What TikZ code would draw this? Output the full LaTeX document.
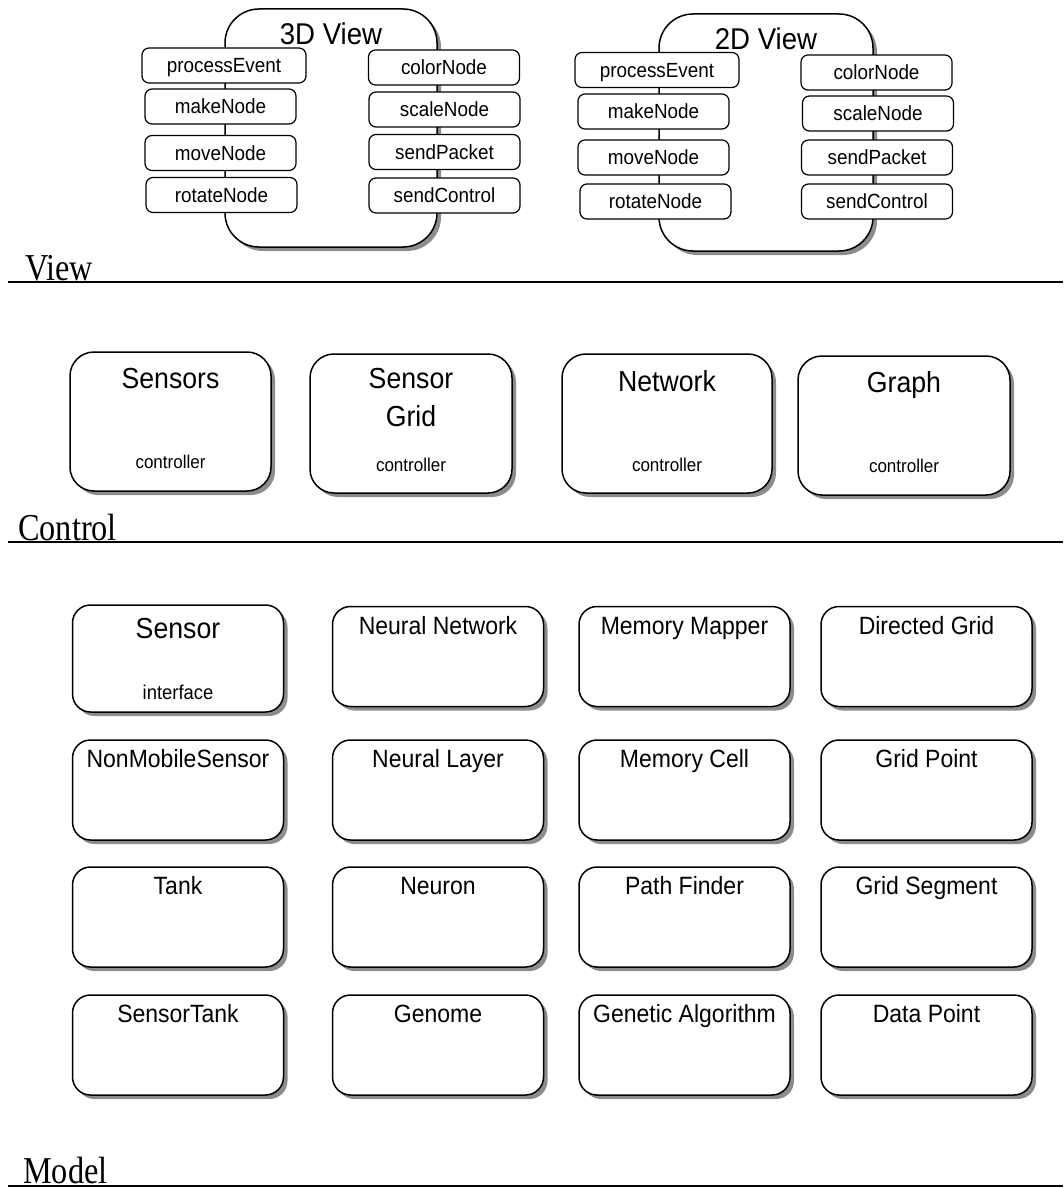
\documentclass[tikz,border=0pt]{standalone}
\usepackage{fontspec}
\setmainfont{Liberation Sans}[FakeStretch=0.92]
\newfontfamily\layerfont[FakeStretch=0.85]{Liberation Serif}
\usetikzlibrary{shadows}

\begin{document}
\begin{tikzpicture}[x=1pt,y=-1pt,
    boxshadow/.style={drop shadow={shadow xshift=4pt,shadow yshift=-4pt,fill=black!45,opacity=1}},
    viewbox/.style={draw,line width=1.5pt,rounded corners=34pt,fill=white,minimum width=212pt,minimum height=238pt,boxshadow},
    method/.style={draw,line width=1.2pt,rounded corners=7pt,fill=white,minimum width=151pt,minimum height=35pt,inner sep=0pt,text height=14.7pt,text depth=0pt,font=\fontsize{20.5}{23}\selectfont},
    ctrlbox/.style={draw,line width=1.5pt,rounded corners=24pt,fill=white,minimum width=206pt,minimum height=139pt,boxshadow},
    classbox/.style={draw,line width=1.5pt,rounded corners=18pt,fill=white,minimum width=211pt,minimum height=100pt,boxshadow},
    bigtitle/.style={anchor=base,inner sep=0pt,font=\fontsize{30}{32}\selectfont},
    ctrltitle/.style={anchor=base,inner sep=0pt,font=\fontsize{29}{32}\selectfont},
    classtitle/.style={anchor=base,inner sep=0pt,font=\fontsize{25}{28}\selectfont},
    note/.style={anchor=base,inner sep=0pt,font=\fontsize{18.5}{21}\selectfont},
    layer/.style={anchor=base west,inner sep=0pt,font=\layerfont\fontsize{38}{40}\selectfont},
    layerline/.style={line width=1.8pt}]
    \useasboundingbox (0,0) rectangle (1063,1188);
    % view layer
    \node[viewbox] (v3) at (331,128) {};
    \node[bigtitle] (t3) at ([yshift=-36pt]v3.north) {3D View};
    \node[method,minimum width=164pt] (pe3) at (224,65.5) {processEvent};
    \node[method] (mk3) at (220.5,106.5) {makeNode};
    \node[method] (mv3) at (220.5,153) {moveNode};
    \node[method] (rt3) at (221.5,195) {rotateNode};
    \node[method] (cn3) at (444,67.5) {colorNode};
    \node[method] (sn3) at (444.5,109.5) {scaleNode};
    \node[method] (sp3) at (444.5,152) {sendPacket};
    \node[method] (sc3) at (444.5,195.5) {sendControl};
    \node[viewbox,minimum width=214pt,minimum height=237pt] (v2) at (766,132.5) {};
    \node[bigtitle] (t2) at ([yshift=-36pt]v2.north) {2D View};
    \node[method,minimum width=164pt] (pe2) at (657,70) {processEvent};
    \node[method] (mk2) at (653.5,111.5) {makeNode};
    \node[method] (mv2) at (653.5,157.5) {moveNode};
    \node[method] (rt2) at (655.5,201.5) {rotateNode};
    \node[method] (cn2) at (876.5,72.5) {colorNode};
    \node[method] (sn2) at (878,113.5) {scaleNode};
    \node[method] (sp2) at (877,157.5) {sendPacket};
    \node[method] (sc2) at (877,201.5) {sendControl};
    \node[layer] (lview) at (25,280) {View};
    \draw[layerline] (8,282)--(1063,282);
    % control layer
    \node[ctrlbox,minimum width=201pt] (csens) at (170.5,421.5) {};
    \node[ctrltitle] (csens1) at ([yshift=-37pt]csens.north) {Sensors};
    \node[note] (csens2) at ([yshift=-117pt]csens.north) {controller};
    \node[ctrlbox,minimum width=202pt] (cgrid) at (411,423.5) {};
    \node[ctrltitle] (cgrid1) at ([yshift=-35pt]cgrid.north) {Sensor};
    \node[ctrltitle] (cgrid2) at ([yshift=-73pt]cgrid.north) {Grid};
    \node[note] (cgrid3) at ([yshift=-118pt]cgrid.north) {controller};
    \node[ctrlbox,minimum width=210pt] (cnet) at (667,423.5) {};
    \node[ctrltitle] (cnet1) at ([yshift=-38pt]cnet.north) {Network};
    \node[note] (cnet2) at ([yshift=-118pt]cnet.north) {controller};
    \node[ctrlbox,minimum width=212pt] (cgraph) at (904,425.5) {};
    \node[ctrltitle] (cgraph1) at ([yshift=-37pt]cgraph.north) {Graph};
    \node[note] (cgraph2) at ([yshift=-117pt]cgraph.north) {controller};
    \node[layer] (lctrl) at (18,540) {Control};
    \draw[layerline] (8,542)--(1063,542);
    % model layer
    \node[classbox,minimum height=107pt] (msensor) at (178,658.5) {};
    \node[ctrltitle] (msensor1) at ([yshift=-34pt]msensor.north) {Sensor};
    \node[note,font=\fontsize{20}{22}\selectfont] (msensor2) at ([yshift=-95pt]msensor.north) {interface};
    \node[classbox] (mnn) at (438,656.5) {};
    \node[classtitle] (mnn1) at ([yshift=-28.5pt]mnn.north) {Neural Network};
    \node[classbox] (mmm) at (684.5,656.5) {};
    \node[classtitle] (mmm1) at ([yshift=-28.5pt]mmm.north) {Memory Mapper};
    \node[classbox] (mdg) at (926.5,656.5) {};
    \node[classtitle] (mdg1) at ([yshift=-28.5pt]mdg.north) {Directed Grid};
    \node[classbox] (mnms) at (178,790) {};
    \node[classtitle] (mnms1) at ([yshift=-28.5pt]mnms.north) {NonMobileSensor};
    \node[classbox] (mnl) at (438,790) {};
    \node[classtitle] (mnl1) at ([yshift=-28.5pt]mnl.north) {Neural Layer};
    \node[classbox] (mmc) at (684.5,790) {};
    \node[classtitle] (mmc1) at ([yshift=-28.5pt]mmc.north) {Memory Cell};
    \node[classbox] (mgp) at (926.5,790) {};
    \node[classtitle] (mgp1) at ([yshift=-28.5pt]mgp.north) {Grid Point};
    \node[classbox] (mtank) at (178,917) {};
    \node[classtitle] (mtank1) at ([yshift=-28.5pt]mtank.north) {Tank};
    \node[classbox] (mneuron) at (438,917) {};
    \node[classtitle] (mneuron1) at ([yshift=-28.5pt]mneuron.north) {Neuron};
    \node[classbox] (mpf) at (684.5,917) {};
    \node[classtitle] (mpf1) at ([yshift=-28.5pt]mpf.north) {Path Finder};
    \node[classbox] (mgs) at (926.5,917) {};
    \node[classtitle] (mgs1) at ([yshift=-28.5pt]mgs.north) {Grid Segment};
    \node[classbox] (mst) at (178,1045) {};
    \node[classtitle] (mst1) at ([yshift=-28.5pt]mst.north) {SensorTank};
    \node[classbox] (mgenome) at (438,1045) {};
    \node[classtitle] (mgenome1) at ([yshift=-28.5pt]mgenome.north) {Genome};
    \node[classbox] (mga) at (684.5,1045) {};
    \node[classtitle] (mga1) at ([yshift=-28.5pt]mga.north) {Genetic Algorithm};
    \node[classbox] (mdp) at (926.5,1045) {};
    \node[classtitle] (mdp1) at ([yshift=-28.5pt]mdp.north) {Data Point};
    \node[layer] (lmodel) at (23,1183) {Model};
    \draw[layerline] (8,1186)--(1063,1186);
\end{tikzpicture}
\end{document}
